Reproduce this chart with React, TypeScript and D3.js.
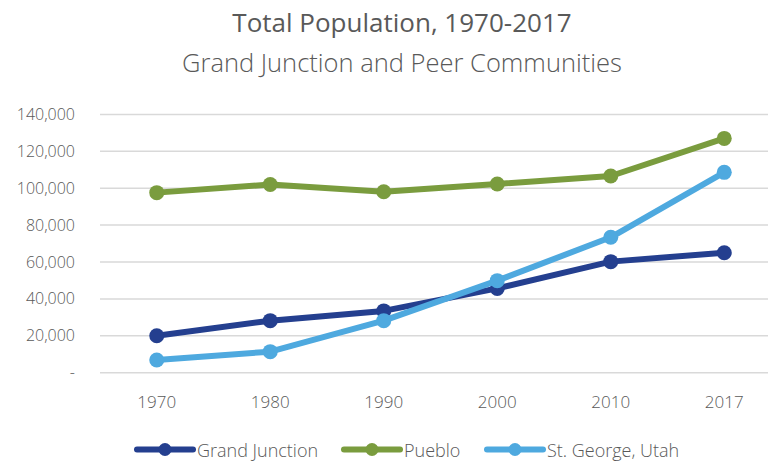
import React from "react";
import * as d3 from "d3";

const years = ["1970", "1980", "1990", "2000", "2010", "2017"];
const grandJunction = [20000, 28200, 33500, 45700, 60200, 65000];
const pueblo = [97600, 102000, 98100, 102300, 106600, 127000];
const stGeorge = [6900, 11400, 28200, 49900, 73400, 108600];
const yTicks = [0, 20000, 40000, 60000, 80000, 100000, 120000, 140000];

const seriesNames = ["Grand Junction", "Pueblo", "St. George, Utah"];
const seriesColors = ["#243f8f", "#7a9c3e", "#4ea9df"];

const W = 768;
const H = 463;
const FONT = "'Open Sans', 'Noto Sans', sans-serif";

export default function App() {
  if (typeof document !== "undefined") document.body.style.margin = "0";
  const x = d3.scaleBand<string>().domain(years).range([100, 781]);
  const y = d3.scaleLinear().domain([0, 140000]).range([372.7, 114.4]);
  const cx = (yr: string) => (x(yr) as number) + x.bandwidth() / 2;
  const line = d3
    .line<number>()
    .x((_, i) => cx(years[i]))
    .y((d) => y(d));
  const series = [grandJunction, pueblo, stGeorge];
  const fmt = (v: number) => (v === 0 ? "-" : d3.format(",")(v));
  const legendX = [137, 344, 487];

  return (
    <svg width={W} height={H} style={{ display: "block", background: "#fff" }} fontFamily={FONT}>
      <text x={402} y={32} textAnchor="middle" fontSize={26} fill="#595959" fontWeight={500}>
        Total Population, 1970-2017
      </text>
      <text x={402} y={72} textAnchor="middle" fontSize={25.5} fill="#595959" fontWeight={300}>
        Grand Junction and Peer Communities
      </text>
      {yTicks.map((t) => (
        <g key={t}>
          <line x1={100} x2={W} y1={y(t)} y2={y(t)} stroke="#d9d9d9" strokeWidth={1.5} />
          <text x={75} y={y(t) + 5.5} textAnchor="end" fontSize={16} fill="#595959" fontWeight={300}>
            {fmt(t)}
          </text>
        </g>
      ))}
      {years.map((yr) => (
        <text key={yr} x={cx(yr)} y={407.5} textAnchor="middle" fontSize={17} fill="#595959" fontWeight={300}>
          {yr}
        </text>
      ))}
      {series.map((s, si) => (
        <g key={si}>
          <path d={line(s) as string} fill="none" stroke={seriesColors[si]} strokeWidth={6} strokeLinejoin="round" strokeLinecap="round" />
          {s.map((v, i) => (
            <circle key={i} cx={cx(years[i])} cy={y(v)} r={7.5} fill={seriesColors[si]} />
          ))}
        </g>
      ))}
      {seriesNames.map((n, i) => (
        <g key={n}>
          <line x1={legendX[i]} x2={legendX[i] + 56} y1={449.5} y2={449.5} stroke={seriesColors[i]} strokeWidth={6} strokeLinecap="round" />
          <circle cx={legendX[i] + 28} cy={449.5} r={6.5} fill={seriesColors[i]} />
          <text x={legendX[i] + 60} y={456.5} fontSize={18} fill="#595959" fontWeight={300}>
            {n}
          </text>
        </g>
      ))}
    </svg>
  );
}
